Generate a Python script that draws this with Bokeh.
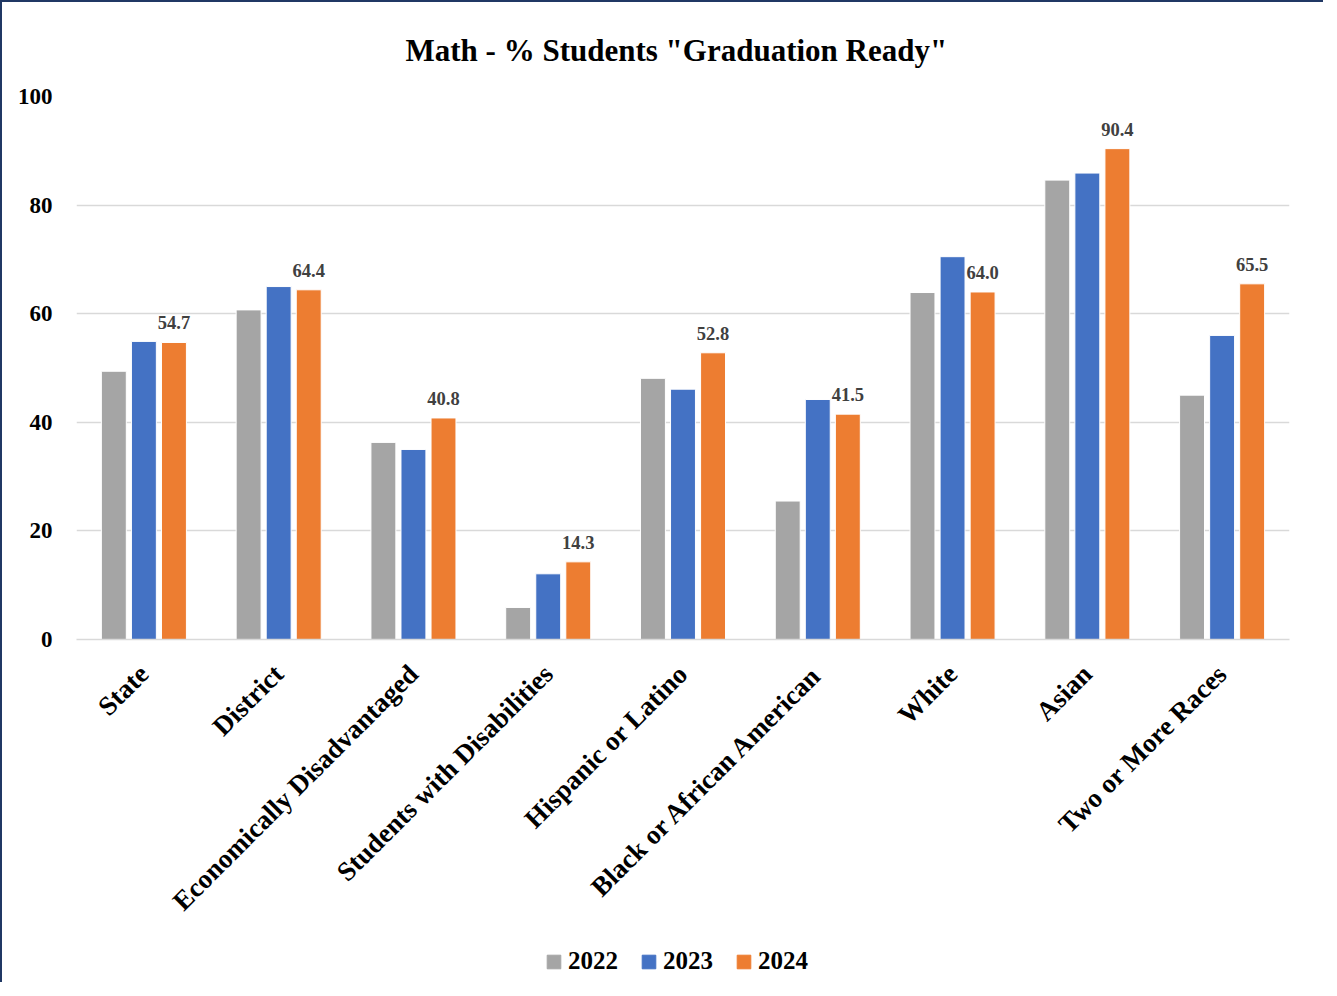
from math import pi
from bokeh.plotting import figure
from bokeh.layouts import column
from bokeh.models import ColumnDataSource, FactorRange, LabelSet, Legend, LegendItem, Range1d
from bokeh.transform import dodge
from bokeh.embed import file_html
from bokeh.resources import INLINE

categories = ["State", "District", "Economically Disadvantaged", "Students with Disabilities",
              "Hispanic or Latino", "Black or African American", "White", "Asian", "Two or More Races"]
v2022 = [49.4, 60.7, 36.3, 5.9, 48.1, 25.5, 63.9, 84.6, 45.0]
v2023 = [54.9, 65.0, 35.0, 12.1, 46.1, 44.2, 70.5, 85.9, 56.0]
v2024 = [54.7, 64.4, 40.8, 14.3, 52.8, 41.5, 64.0, 90.4, 65.5]
years = ["2022", "2023", "2024"]
colors = ["#a5a5a5", "#4472c4", "#ed7d31"]

FONT = "Liberation Serif"

src = ColumnDataSource(dict(cat=categories, v2022=v2022, v2023=v2023, v2024=v2024,
                            lab=["%.1f" % v for v in v2024]))

p = figure(x_range=FactorRange(*categories), y_range=Range1d(0, 100),
           width=1321, height=935, output_backend="svg", toolbar_location=None,
           min_border_left=74, min_border_right=34, min_border_top=92, min_border_bottom=298)

W = 0.185
OFF = 0.223
for i, (col, c) in enumerate(zip(["v2022", "v2023", "v2024"], colors)):
    p.vbar(x=dodge("cat", (i - 1) * OFF, range=p.x_range), top=col, width=W, source=src,
           fill_color=c, line_color="white", line_width=1)

labels = LabelSet(x=dodge("cat", OFF, range=p.x_range), y="v2024", text="lab", source=src,
                  y_offset=13, text_align="center", text_baseline="bottom",
                  text_font=FONT, text_font_style="bold", text_font_size="18.5px", text_color="#404040")
p.add_layout(labels)

p.title.text = 'Math - % Students "Graduation Ready"'
p.title.align = "left"
p.title.offset = 329
p.title.text_font = FONT
p.title.text_font_size = "31px"
p.title.text_font_style = "bold"
p.title.text_color = "#000000"
p.title.standoff = 57

p.xgrid.grid_line_color = None
p.ygrid.grid_line_color = "#d9d9d9"
p.ygrid.grid_line_width = 1.5
p.yaxis.ticker = [0, 20, 40, 60, 80, 100]
p.yaxis.axis_line_color = None
p.yaxis.major_tick_line_color = None
p.yaxis.minor_tick_line_color = None
p.yaxis.major_label_text_font = FONT
p.yaxis.major_label_text_font_style = "bold"
p.yaxis.major_label_text_font_size = "23px"
p.yaxis.major_label_text_color = "#000000"
p.yaxis.major_label_standoff = 18

p.xaxis.axis_line_color = "#d9d9d9"
p.xaxis.axis_line_width = 1.5
p.xaxis.major_tick_line_color = None
p.xaxis.minor_tick_line_color = None
p.xaxis.major_label_orientation = pi / 4
p.xaxis.major_label_text_font = FONT
p.xaxis.major_label_text_font_style = "bold"
p.xaxis.major_label_text_font_size = "27px"
p.xaxis.major_label_text_color = "#000000"
p.xaxis.major_label_standoff = 24
p.x_range.range_padding = 0
p.x_range.group_padding = 0
p.outline_line_color = None

# legend strip below the chart (dummy glyphs lie outside the visible range)
lg = figure(width=1321, height=45, output_backend="svg", toolbar_location=None,
            x_axis_type=None, y_axis_type=None, x_range=Range1d(0, 1), y_range=Range1d(0, 1),
            min_border=0, outline_line_color=None)
lg.grid.visible = False
leg_src = ColumnDataSource(dict(l=[10], r=[11], t=[11], b=[10]))
items = []
for yname, c in zip(years, colors):
    r = lg.quad(left="l", right="r", top="t", bottom="b", source=leg_src,
                fill_color=c, line_color=c)
    items.append(LegendItem(label=yname, renderers=[r]))
legend = Legend(items=items, orientation="horizontal", location=(469, 7),
                label_text_font=FONT, label_text_font_style="bold", label_text_font_size="25px",
                label_text_color="#000000", glyph_width=17, glyph_height=17,
                spacing=22, label_standoff=6, border_line_color=None,
                background_fill_alpha=0, margin=0, padding=0)
lg.add_layout(legend)

layout = column(p, lg, spacing=0,
                styles={"border-top": "2px solid #203864", "border-left": "2px solid #203864"})

open("out.html", "w").write(file_html(layout, INLINE))
